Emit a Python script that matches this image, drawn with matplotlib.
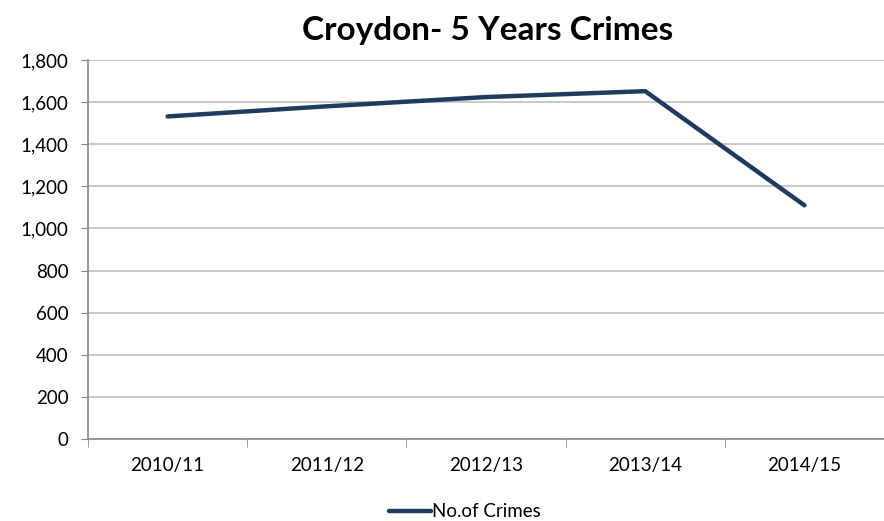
import matplotlib.pyplot as plt
from matplotlib.ticker import FuncFormatter

plt.rcParams['font.family'] = ['Lato', 'DejaVu Sans']

years = ['2010/11', '2011/12', '2012/13', '2013/14', '2014/15']
crimes = [1532, 1580, 1624, 1652, 1110]

line_color = '#1f3b5e'

fig = plt.figure(figsize=(8.84, 5.21), dpi=100)
ax = fig.add_axes([88 / 884, 1 - 439 / 521, 1 - 88 / 884, (439 - 60) / 521])

ax.plot(range(len(years)), crimes, color=line_color, linewidth=3.2,
        solid_capstyle='round', solid_joinstyle='miter', label='No.of Crimes')

ax.set_xlim(-0.5, 4.47)
ax.set_ylim(0, 1800)
ax.set_yticks(range(0, 1801, 200))
ax.yaxis.set_major_formatter(FuncFormatter(lambda v, p: '{:,.0f}'.format(v)))
ax.set_xticks(range(len(years)))
ax.set_xticklabels(years)
ax.set_xticks([i - 0.5 for i in range(len(years) + 1)], minor=True)

ax.grid(axis='y', color='#bfbfbf', linewidth=1.2)
ax.set_axisbelow(True)
for s in ['top', 'right']:
    ax.spines[s].set_visible(False)
for s in ['left', 'bottom']:
    ax.spines[s].set_color('#888888')
    ax.spines[s].set_linewidth(1.2)

ax.tick_params(axis='y', length=5, color='#888888', labelsize=13.5, pad=9)
ax.tick_params(axis='x', which='major', length=0, labelsize=13.5, pad=13)
ax.tick_params(axis='x', which='minor', length=6, color='#888888')

fig.text(0.552, 0.942, 'Croydon- 5 Years Crimes', ha='center', va='center',
         fontsize=24, fontweight='bold')

ax.legend(loc='center', bbox_to_anchor=(0.474, -0.192), frameon=False,
          fontsize=13.5, handlelength=2.2, handletextpad=0.1)

plt.savefig('out.png', dpi=100)
